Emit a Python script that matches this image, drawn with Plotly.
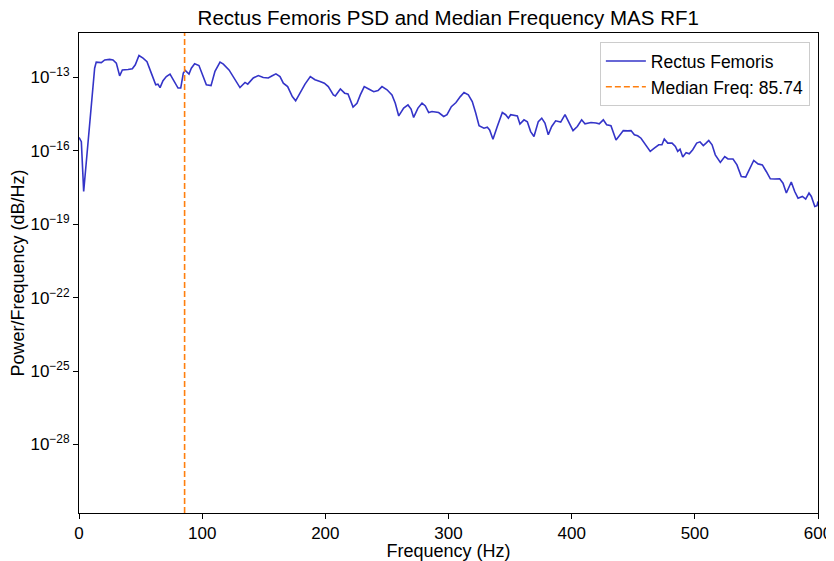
import numpy as np
import plotly.graph_objects as go

# PSD values (frequency in Hz, power as log10)
freqs = [
    0, 1.9, 3.8, 7.3, 10.6, 12.7, 14.0, 16.8, 18.1, 20.9, 24.9, 27.6, 30.3, 33.0, 35.2,
    39.8, 43.3, 45.7, 48.7, 52.0, 55.2, 58.7, 62.3, 64.1, 65.8, 68.2, 70.9, 73.9, 77.7,
    80.4, 82.6, 84.7, 86.3, 89.3, 91.2, 93.9, 97.4, 100.7, 103.4, 107.2, 110.4, 114.5,
    117.2, 121.8, 126.7, 130.7, 134.8, 137.0, 141.5, 145.6, 149.6, 153.7, 156.5, 159.9,
    163.2, 165.9, 169.4, 173.2, 175.9, 179.4, 183.5, 187.8, 191.6, 195.7, 199.2, 202.4,
    206.5, 208.1, 212.2, 215.7, 218.4, 222.5, 225.7, 228.4, 231.6, 235.2, 239.3, 242.8,
    246.0, 250.1, 254.1, 256.8, 259.6, 263.6, 267.1, 269.6, 271.7, 275.2, 278.5, 281.2,
    283.9, 286.6, 289.3, 292.0, 296.1, 298.8, 302.3, 306.1, 309.6, 312.6, 316.1, 319.3,
    322.1, 324.8, 328.8, 331.5, 333.4, 336.1, 339.6, 343.7, 346.4, 348.6, 350.5, 355.9,
    358.0, 361.3, 364.0, 366.7, 369.4, 372.9, 375.7, 378.3, 381.0, 383.8, 387.0, 391.1,
    394.6, 397.8, 401.1, 404.6, 408.1, 410.8, 413.5, 415.7, 419.8, 422.4, 425.7, 428.4,
    431.9, 436.0, 438.7, 441.9, 445.5, 448.2, 450.9, 453.6, 456.3, 460.4, 463.8, 467.1,
    470.7, 473.3, 475.2, 478.0, 481.5, 484.2, 486.1, 488.0, 490.2, 492.9, 495.5, 498.3,
    501.5, 504.2, 506.9, 509.1, 511.3, 514.0, 516.6, 520.7, 524.3, 526.9, 531.0, 534.2,
    537.7, 541.3, 544.5, 547.8, 551.3, 554.8, 558.0, 561.3, 564.8, 568.9, 571.6, 574.3,
    578.3, 581.1, 583.8, 587.3, 590.0, 592.7, 594.6, 597.4, 599.2, 600.0,
]
psd_log10 = [
    -15.45, -15.62, -17.66, -15.75, -13.71, -12.62, -12.37, -12.37, -12.39, -12.28, -12.26,
    -12.28, -12.41, -12.93, -12.69, -12.67, -12.64, -12.48, -12.10, -12.21, -12.35, -12.82,
    -13.30, -13.27, -13.41, -13.13, -12.96, -12.86, -13.19, -13.43, -13.43, -12.82, -12.71,
    -12.86, -12.62, -12.44, -12.51, -12.96, -13.30, -13.33, -12.75, -12.37, -12.45, -12.69,
    -13.09, -13.41, -13.20, -13.27, -13.02, -12.92, -13.00, -13.02, -12.94, -12.85, -12.96,
    -13.23, -13.37, -13.78, -13.95, -13.64, -13.27, -12.96, -13.09, -13.16, -13.23, -13.37,
    -13.71, -13.75, -13.47, -13.64, -13.67, -14.21, -14.05, -13.71, -13.37, -13.47, -13.58,
    -13.53, -13.37, -13.50, -13.71, -14.05, -14.57, -14.25, -14.12, -14.29, -14.63, -14.25,
    -14.05, -14.16, -14.43, -14.39, -14.40, -14.43, -14.59, -14.52, -14.19, -14.02, -13.78,
    -13.61, -13.71, -13.98, -14.45, -14.97, -15.07, -15.03, -15.14, -15.52, -15.00, -14.43,
    -14.52, -14.66, -14.52, -14.57, -14.90, -14.73, -14.81, -15.21, -15.41, -14.80, -14.66,
    -14.86, -15.34, -15.00, -14.77, -14.82, -14.52, -14.84, -15.17, -15.00, -14.73, -14.89,
    -14.86, -14.84, -14.86, -14.89, -14.73, -14.93, -14.97, -15.55, -15.38, -15.17, -15.18,
    -15.17, -15.34, -15.38, -15.48, -15.75, -16.02, -15.89, -15.75, -15.75, -15.51, -15.68,
    -15.68, -15.82, -16.02, -15.93, -16.25, -16.07, -16.12, -15.95, -15.68, -15.63, -15.78,
    -15.68, -15.57, -15.75, -16.16, -16.47, -16.23, -16.33, -16.33, -16.57, -17.05, -17.07,
    -16.70, -16.39, -16.53, -16.57, -16.84, -17.14, -17.15, -17.14, -17.32, -17.72, -17.27,
    -17.66, -17.93, -17.86, -17.97, -17.72, -17.86, -18.27, -18.24, -18.07,
]
median_freq = 85.74

y_tick_exps = [-13, -16, -19, -22, -25, -28]
y_tick_text = [f"10<sup>\u2212{abs(e)}</sup>" for e in y_tick_exps]
x_ticks = [0, 100, 200, 300, 400, 500, 600]

power = 10 ** np.array(psd_log10)

fig = go.Figure()
fig.add_trace(go.Scatter(
    x=freqs, y=power, mode="lines", name="Rectus Femoris",
    line=dict(color="#3434c8", width=1.6),
))
fig.add_trace(go.Scatter(
    x=[median_freq, median_freq], y=[10 ** -30.8, 10 ** -11.18], mode="lines",
    name=f"Median Freq: {median_freq}",
    line=dict(color="#ff7f0e", width=1.6, dash="6px,3px"),
))

axis_common = dict(
    showline=True, linecolor="black", linewidth=1, mirror=True,
    ticks="outside", ticklen=5, tickcolor="black", showgrid=False, zeroline=False,
    tickfont=dict(size=17, color="black"), automargin=False,
)
fig.update_xaxes(
    range=[0, 600], tickvals=x_ticks,
    title=dict(text="Frequency (Hz)", font=dict(size=18, color="black"), standoff=7),
    **axis_common,
)
fig.update_yaxes(
    type="log", range=[-30.8, -11.18], tickvals=[10.0 ** e for e in y_tick_exps],
    ticktext=y_tick_text,
    title=dict(text="Power/Frequency (dB/Hz)", font=dict(size=18, color="black"), standoff=1),
    **axis_common,
)
# page body adds an 8px offset at top-left, so left/top margins are 8px smaller
fig.update_layout(
    width=826, height=553,
    margin=dict(l=71, r=16, t=25, b=48),
    plot_bgcolor="white", paper_bgcolor="white",
    font=dict(family="Liberation Sans, Arial, sans-serif", color="black"),
    title=dict(text="Rectus Femoris PSD and Median Frequency MAS RF1",
               x=0.533, xanchor="center", yref="container", y=0.995, yanchor="top",
               font=dict(size=20.5, color="black")),
    legend=dict(x=0.989, y=0.981, xanchor="right", yanchor="top",
                bgcolor="rgba(255,255,255,0.8)", bordercolor="#cccccc", borderwidth=1,
                font=dict(size=17.5, color="black"), itemwidth=40),
    showlegend=True,
)

fig.write_html("out.html")
